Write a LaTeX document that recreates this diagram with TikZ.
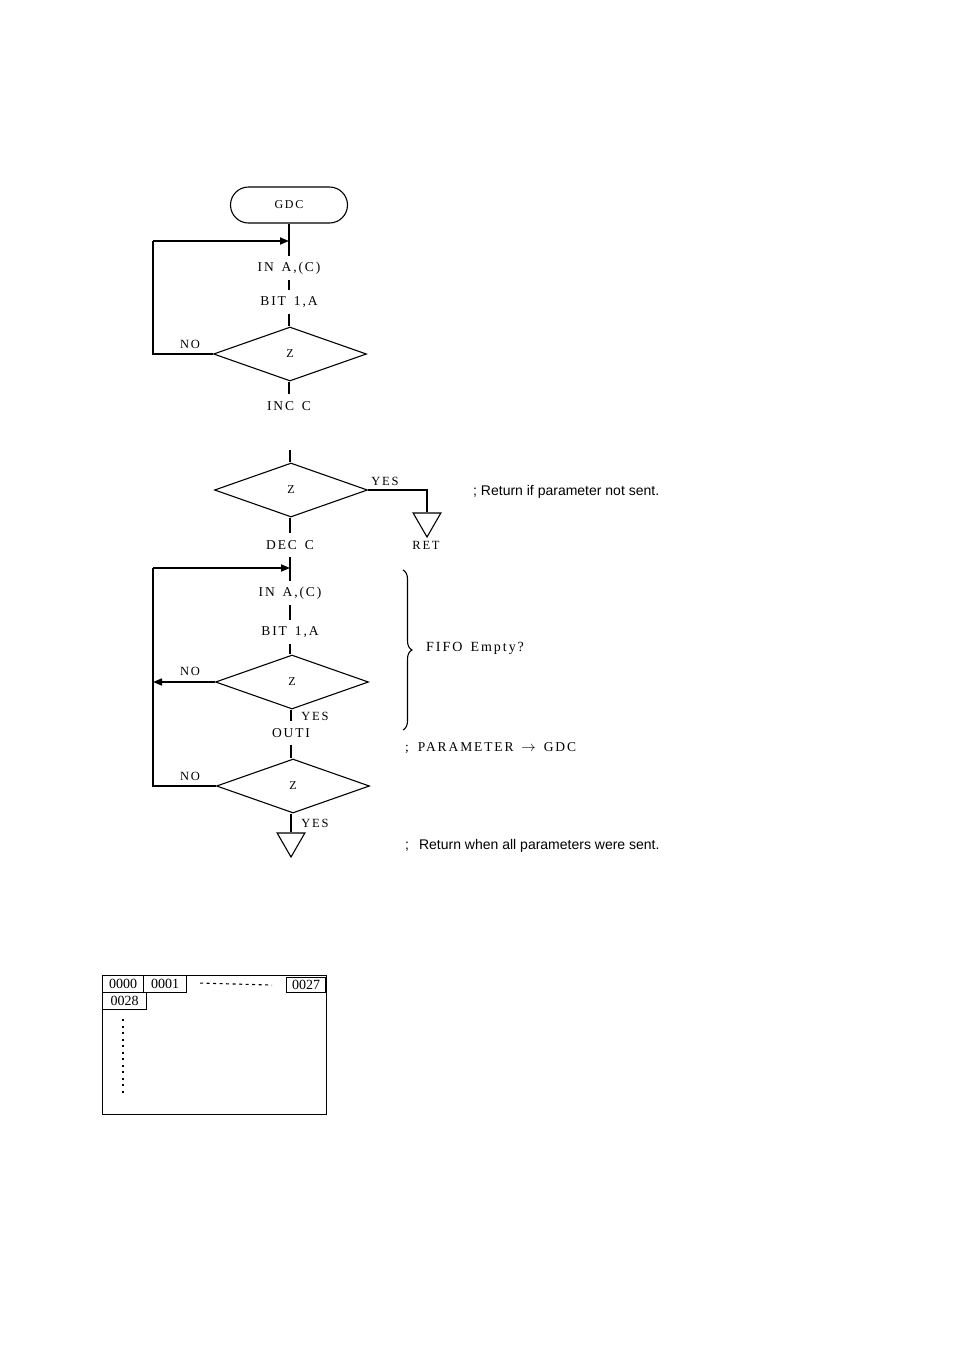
\documentclass[tikz,border=0pt]{standalone}
\usepackage{fontspec}
\setmainfont{Liberation Serif}
\newfontfamily\flowfont[LetterSpace=14,WordSpace=1.5]{Liberation Serif}
\newfontfamily\notefont{Liberation Sans}
\usetikzlibrary{shapes.geometric,arrows.meta,decorations.pathreplacing}

\tikzset{
  flow/.style={line width=1.7pt},
  edge/.style={line width=1.1pt},
  arr/.style={flow,-{Triangle[length=9pt,width=7pt]}},
  op/.style={font=\flowfont\fontsize{13.5}{15}\selectfont,inner sep=0pt,minimum height=24pt},
  test/.style={draw,edge,diamond,minimum width=153pt,minimum height=54pt,inner sep=0pt,
    font=\fontsize{12}{14}\selectfont},
  term/.style={draw,edge,rounded corners=18pt,minimum width=117pt,minimum height=36pt,
    font=\flowfont\fontsize{12}{14}\selectfont},
  stop/.style={draw,edge,regular polygon,regular polygon sides=3,shape border rotate=180,
    minimum size=32pt,inner sep=0pt},
  lbl/.style={font=\flowfont\fontsize{12.5}{14}\selectfont,inner sep=0pt},
  note/.style={font=\notefont\fontsize{14}{16}\selectfont,anchor=west,inner sep=0pt},
  cell/.style={draw,edge,font=\fontsize{14}{16}\selectfont,minimum height=17pt,inner sep=0pt,anchor=north west}
}

\begin{document}
\begin{tikzpicture}[x=1pt,y=-1pt]
  \useasboundingbox (0,0) rectangle (954,1350);

  % wait for the GDC
  \node[term] (gdc) at (289,205) {GDC};
  \node[op] (in1) at (289,268) {IN A,(C)};
  \node[op] (bit1) at (289,302) {BIT 1,A};
  \node[test] (d1) at (290,354) {Z};
  \node[op] (inc) at (289,406) {INC C};
  \node[lbl] (no1) at (190,344) {NO};
  \coordinate (j1) at (289,241);
  \coordinate (l1) at (153,241);

  \draw[flow] (gdc) -- (in1);
  \draw[flow] (in1) -- (bit1);
  \draw[flow] (bit1.south) -- (bit1.south |- d1.north);
  \draw[flow] (d1.south -| inc) -- (inc);
  \draw[edge] (d1.west) -| (l1);
  \draw[arr] (l1) -- (j1);

  % send the parameters
  \coordinate (top2) at (290,450);
  \node[test] (d2) at (291,490) {Z};
  \node[lbl] (yes2) at (385,481) {YES};
  \node[stop] (ret) at (427,521) {};
  \node[lbl] (retl) at (426,545) {RET};
  \node[op] (dec) at (290,545) {DEC C};
  \node[op] (in2) at (290,593) {IN A,(C)};
  \node[op] (bit2) at (290,632) {BIT 1,A};
  \node[test] (d3) at (292,682) {Z};
  \node[lbl] (no3) at (190,671) {NO};
  \node[lbl] (yes3) at (315,716) {YES};
  \node[op] (outi) at (291,733) {OUTI};
  \node[test] (d4) at (293,786) {Z};
  \node[lbl] (no4) at (190,776) {NO};
  \node[lbl] (yes4) at (315,823) {YES};
  \node[stop] (end) at (291,841) {};
  \coordinate (j2) at (290,568);
  \coordinate (l2) at (153,568);
  \coordinate (m3) at (153,682);

  \draw[flow] (top2) -- (top2 |- d2.north);
  \draw[flow] (d2.south -| dec) -- (dec);
  \draw[edge] (d2.east) -| (ret.north);
  \draw[flow] (dec) -- (in2);
  \draw[flow] (in2) -- (bit2);
  \draw[flow] (bit2.south) -- (bit2.south |- d3.north);
  \draw[flow] (d3.south -| outi) -- (outi);
  \draw[arr] (d3.west) -- (m3);
  \draw[flow] (outi.south) -- (outi.south |- d4.north);
  \draw[flow] (d4.south -| end) -- (end.north);
  \draw[edge] (d4.west) -| (l2);
  \draw[arr] (l2) -- (j2);

  % comments
  \draw[edge,decorate,decoration={brace,amplitude=9pt}] (403,570) -- (403,730);
  \node[lbl,anchor=west,font=\flowfont\fontsize{14}{16}\selectfont] (fifo) at (426,648) {FIFO Empty?};
  \node[note] (c1) at (473,492) {; Return if parameter not sent.};
  \node[lbl,anchor=west,font=\flowfont\fontsize{13.5}{15}\selectfont] (c2) at (405,748)
    {;\hspace{9pt}PARAMETER $\rightarrow$ GDC};
  \node[note] (c3) at (405,846) {;\hspace{10pt}Return when all parameters were sent.};

  % screen layout
  \node[draw,edge,minimum width=224pt,minimum height=139pt,anchor=north west] (screen) at (102,975) {};
  \node[cell,minimum width=41pt] (a0) at (102,975) {0000};
  \node[cell,minimum width=43pt] (a1) at (143,975) {0001};
  \node[cell,minimum width=39pt,minimum height=15pt] (a27) at (286,977) {0027};
  \node[cell,minimum width=44pt] (a28) at (102,992) {0028};
  \draw[edge,dash pattern=on 3pt off 3.5pt] ([xshift=13pt,yshift=1pt]a1.east) -- ([xshift=-14pt]a27.west);
  \draw[line width=2pt,dash pattern=on 2pt off 4.5pt] ([xshift=-2pt,yshift=-9pt]a28.south) -- ([xshift=-2pt,yshift=-84pt]a28.south);
\end{tikzpicture}
\end{document}
